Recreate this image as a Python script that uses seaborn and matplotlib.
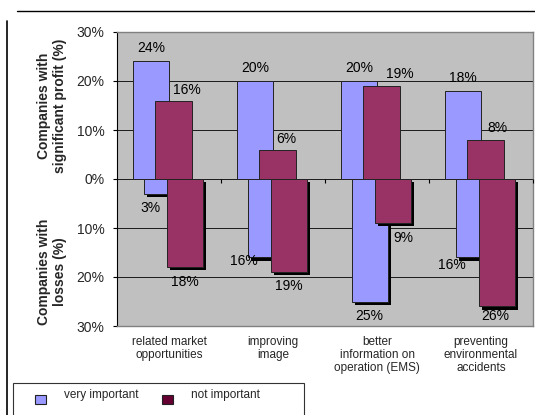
import numpy as np
import matplotlib
matplotlib.use("Agg")
import matplotlib.pyplot as plt
import matplotlib.patheffects as pe
import matplotlib.transforms as mtransforms
from matplotlib.lines import Line2D
from matplotlib.patches import Patch, Rectangle
from matplotlib.legend_handler import HandlerPatch
from matplotlib.ticker import FuncFormatter
import seaborn as sns

# ---- data -------------------------------------------------------------
categories = [
    "related market\nopportunities",
    "improving\nimage",
    "better\ninformation on\noperation (EMS)",
    "preventing\nenvironmental\naccidents",
]
series = ["very important", "not important"]

profit_very = [24, 20, 20, 18]   # companies with significant profit (%)
profit_not = [16, 6, 19, 8]
loss_very = [3, 16, 25, 16]      # companies with losses (%)
loss_not = [18, 19, 9, 26]

y_ticks = [-30, -20, -10, 0, 10, 20, 30]

# ---- style ------------------------------------------------------------
BLUE = "#9999FF"
MAROON = "#993366"
MAROON_KEY = "#660033"
PANEL = "#C0C0C0"
EDGE = "#222222"
BAR_W = 0.35
PX = 0.72  # points per pixel at 100 dpi

# label nudges in pixels (dx, dy) for each bar of each group
NUDGE_PROFIT_VERY = [(0, 13), (0, 13), (0, 13), (0, 13)]
NUDGE_PROFIT_NOT = [(13, 11), (9, 11), (18, 12), (12, 12)]
NUDGE_LOSS_VERY = [(-12, -14), (-22, -4), (-1, -14), (-22, -8)]
NUDGE_LOSS_NOT = [(0, -15), (0, -14), (10, -15), (-2, -10)]

sns.set_style("white")
plt.rcParams["font.family"] = ["Liberation Sans", "DejaVu Sans"]

W, H = 535, 415
fig = plt.figure(figsize=(W / 100, H / 100), dpi=100)
ax = fig.add_axes([117 / W, (H - 326) / H, 416 / W, 294 / H])
ax.set_facecolor(PANEL)
ax.set_axisbelow(True)


def draw_group(values, color, shift, sign, shadow, nudges):
    start = len(ax.patches)
    sns.barplot(x=categories, y=[sign * v for v in values], order=categories,
                color=color, saturation=1, width=BAR_W, errorbar=None,
                edgecolor=EDGE, linewidth=0.7, ax=ax)
    bars = ax.patches[start:]
    for bar, v, (dx, dy) in zip(bars, values, nudges):
        bar.set_x(bar.get_x() + shift)
        if shadow:
            bar.set_path_effects([
                pe.SimplePatchShadow(offset=(2.3, -2.3), shadow_rgbFace="black", alpha=1.0),
                pe.Normal(),
            ])
        cx = bar.get_x() + bar.get_width() / 2
        ax.annotate(f"{v}%", xy=(cx, sign * v), xytext=(dx * PX, dy * PX),
                    textcoords="offset points", ha="center", va="center",
                    fontsize=10, color="black", zorder=6,
                    annotation_clip=False)
    return bars


draw_group(profit_very, BLUE, -0.173, 1, False, NUDGE_PROFIT_VERY)
draw_group(profit_not, MAROON, 0.043, 1, False, NUDGE_PROFIT_NOT)
draw_group(loss_very, BLUE, -0.067, -1, True, NUDGE_LOSS_VERY)
draw_group(loss_not, MAROON, 0.154, -1, True, NUDGE_LOSS_NOT)

# ---- axes -------------------------------------------------------------
ax.set_xlim(-0.5, len(categories) - 0.5)
ax.set_ylim(y_ticks[0], y_ticks[-1])
ax.set_yticks(y_ticks)
ax.yaxis.set_major_formatter(FuncFormatter(lambda v, _: f"{abs(v):.0f}%"))
ax.yaxis.grid(True, color="black", linewidth=0.6)
ax.xaxis.grid(False)
ax.set_xlabel("")
ax.set_ylabel("")

ax.tick_params(axis="y", direction="out", length=3, width=0.8, color="black",
               pad=6, labelsize=10, left=True)
ax.tick_params(axis="x", length=0, pad=7, labelsize=8.5)
for lbl in ax.get_xticklabels():
    lbl.set_linespacing(1.1)

for side in ("top", "right", "bottom"):
    ax.spines[side].set_color("#808080")
    ax.spines[side].set_linewidth(1.0)
ax.spines["left"].set_color("black")
ax.spines["left"].set_linewidth(0.8)

# category dividers on the zero line
ax.plot(np.arange(len(categories)) + 0.5, np.zeros(len(categories)),
        ls="none", marker=3, ms=3, mew=0.8, color="black", clip_on=False, zorder=5)

# axis titles for the two halves
blend = mtransforms.blended_transform_factory(ax.transAxes, ax.transData)
ax.text(-0.156, 15, "Companies with\nsignificant profit (%)", transform=blend,
        rotation=90, ha="center", va="center", fontsize=10, fontweight="bold",
        linespacing=1.2, multialignment="center")
ax.text(-0.156, -19, "Companies with\nlosses (%)", transform=blend,
        rotation=90, ha="center", va="center", fontsize=10, fontweight="bold",
        linespacing=1.2, multialignment="center")

# ---- page frame -------------------------------------------------------
fig.add_artist(Line2D([17 / W, 1], [1 - 11 / H, 1 - 11 / H],
                      transform=fig.transFigure, color="black", lw=1))
fig.add_artist(Line2D([7 / W, 7 / W], [1 - 21 / H, 0],
                      transform=fig.transFigure, color="black", lw=1.2))

# ---- legend -----------------------------------------------------------
fig.add_artist(Rectangle((13 / W, -0.05), (304 - 13) / W, 0.05 + (H - 383) / H,
                         transform=fig.transFigure, fill=False,
                         edgecolor="#333333", lw=0.8))


def low_swatch(legend, orig_handle, xdescent, ydescent, width, height, fontsize):
    return Rectangle((-xdescent, -ydescent - 0.45 * fontsize), width, height)


handles = [Patch(facecolor=BLUE, edgecolor=EDGE, linewidth=0.8),
           Patch(facecolor=MAROON_KEY, edgecolor=EDGE, linewidth=0.8)]
fig.legend(handles=handles, labels=series, loc="upper left",
           bbox_to_anchor=(35 / W, (H - 389) / H), ncol=2, frameon=False,
           fontsize=8.5, handlelength=0.93, handleheight=0.75,
           handletextpad=1.55, columnspacing=1.95, borderpad=0,
           borderaxespad=0, handler_map={Patch: HandlerPatch(patch_func=low_swatch)})

fig.savefig("out.png", dpi=100)
